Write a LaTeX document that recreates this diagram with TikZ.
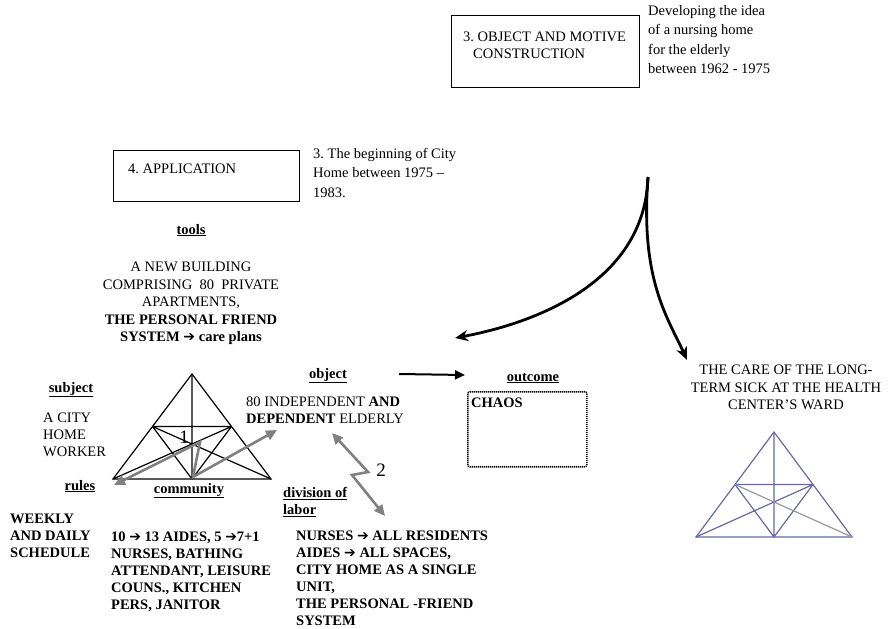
\documentclass[tikz,border=0pt]{standalone}
\usepackage{fontspec}
\setmainfont{Liberation Serif}
\newfontfamily\arrowfont{DejaVu Sans}
\usetikzlibrary{arrows.meta}
\frenchspacing
\newcommand{\harr}{{\arrowfont\bfseries\fontsize{14}{14}\selectfont ➔}}
\definecolor{wardblue}{RGB}{104,104,164}
\definecolor{zaggray}{RGB}{128,128,128}

\tikzset{
  plain/.style={inner sep=0pt, align=left, font=\fontsize{14.5}{17}\selectfont},
  note/.style={plain, font=\fontsize{14.5}{19.5}\selectfont},
  heavy/.style={plain, font=\fontsize{14.5}{17}\selectfont\bfseries},
  head/.style={inner sep=0pt, font=\fontsize{14.5}{17}\selectfont\bfseries},
  digit/.style={inner sep=0pt, font=\fontsize{19}{19}\selectfont},
  frame/.style={draw, line width=1pt, inner sep=0pt},
  zig/.style={draw=zaggray, line width=2.6pt,
    {Triangle[length=11pt,width=10pt]}-{Triangle[length=11pt,width=10pt]}},
  sweep/.style={line width=2.8pt, -{Stealth[length=13pt,width=11pt,inset=4pt]}},
}

\begin{document}
\begin{tikzpicture}[x=1pt,y=-1pt]
\useasboundingbox (0,0) rectangle (889,629);

% object and motive
\node[frame, anchor=north west, minimum width=188pt, minimum height=72pt] (motivebox) at (451,15) {};
\node[plain, anchor=north west] (motive) at (463,32) {3. OBJECT AND MOTIVE\\\hspace{10pt}CONSTRUCTION};
\node[note, anchor=north west] (idea) at (648,5) {Developing the idea\\of a nursing home\\for the elderly\\between 1962 - 1975};

% application
\node[frame, anchor=north west, minimum width=186pt, minimum height=51pt] (appbox) at (113,150) {};
\node[plain, anchor=north west] (app) at (128,164) {4. APPLICATION};
\node[note, anchor=north west] (begin) at (313,148) {3. The beginning of City\\Home between 1975 --\\1983.};

% tools
\node[head, anchor=base] (tools) at (191,234) {\underline{tools}};
\node[plain, align=center, anchor=north, font=\fontsize{14.5}{17.5}\selectfont] (toolstxt) at (191,262)
  {A NEW BUILDING\\COMPRISING\ \ 80\ \ PRIVATE\\APARTMENTS,\\\textbf{THE PERSONAL FRIEND}\\\textbf{SYSTEM \harr{} care plans}};

% subject and rules
\node[head, anchor=base] (subject) at (71,392) {\underline{subject}};
\node[plain, anchor=north west] (worker) at (43,413) {A CITY\\HOME\\WORKER};
\node[head, anchor=base] (rules) at (80,490) {\underline{rules}};
\node[heavy, anchor=north west] (schedule) at (10,514) {WEEKLY\\AND DAILY\\SCHEDULE};

% community
\node[head, anchor=base] (community) at (189,493) {\underline{community}};
\node[heavy, anchor=north west] (staff) at (111,532)
  {10 \harr{} 13 AIDES, 5 \harr{}7+1\\NURSES, BATHING\\ATTENDANT, LEISURE\\COUNS., KITCHEN\\PERS, JANITOR};

% division of labor
\node[head, anchor=north west, align=left] (division) at (283,487) {\underline{division of}\\\underline{labor}};
\node[heavy, anchor=north west] (tasks) at (296,531)
  {NURSES \harr{} ALL RESIDENTS\\AIDES \harr{} ALL SPACES,\\CITY HOME AS A SINGLE\\UNIT,\\THE PERSONAL -FRIEND\\SYSTEM};

% object
\node[head, anchor=base] (object) at (328,378) {\underline{object}};
\node[plain, anchor=north west] (elderly) at (246,397) {80 INDEPENDENT \textbf{AND}\\\textbf{DEPENDENT} ELDERLY};

% outcome
\node[head, anchor=base] (outcome) at (533,381) {\underline{outcome}};
\node[draw, line width=1.6pt, dash pattern=on 1.2pt off 0.8pt, rounded corners=2pt,
  minimum width=119pt, minimum height=75pt, anchor=north west] (chaosbox) at (467,391) {};
\node[head, anchor=north west] (chaos) at (471,398) {CHAOS};

% the ward
\node[plain, align=center, anchor=north, font=\fontsize{14.5}{17.5}\selectfont] (care) at (786,365)
  {THE CARE OF THE LONG-\\TERM SICK AT THE HEALTH\\CENTER’S WARD};

% activity triangle
\coordinate (t) at (192,374);
\coordinate (l) at (113,479);
\coordinate (r) at (271,479);
\coordinate (m) at (192,479);
\coordinate (ml) at (152.5,426.5);
\coordinate (mr) at (231.5,426.5);
\draw[line width=1.2pt] (l) -- (t) -- (r) -- cycle;
\draw[line width=1.2pt] (t) -- (m) (ml) -- (mr) (ml) -- (m) -- (mr) (ml) -- (r) (mr) -- (l);
\node[digit] (one) at (184,437) {1};

% ward triangle
\coordinate (wt) at (774,432);
\coordinate (wl) at (696,537);
\coordinate (wr) at (852,537);
\coordinate (wm) at (774,537);
\coordinate (wml) at (735,484.5);
\coordinate (wmr) at (813,484.5);
\draw[wardblue, line width=1.2pt] (wl) -- (wt) -- (wr) -- cycle;
\draw[wardblue, line width=1.2pt] (wt) -- (wm) (wml) -- (wmr) (wml) -- (wm) -- (wmr) (wmr) -- (wl);
\draw[gray!80, line width=1.2pt] (wml) -- (wr);

% contradictions
\coordinate (z1a) at (114,485);
\coordinate (z1b) at (200,442);
\coordinate (z1c) at (193,477);
\coordinate (z1d) at (277,430);
\draw[zig] (z1a) -- (z1b) -- (z1c) -- (z1d);
\coordinate (z2a) at (332,433);
\coordinate (z2b) at (368,472);
\coordinate (z2c) at (352,475);
\coordinate (z2d) at (385,516);
\draw[zig] (z2a) -- (z2b) -- (z2c) -- (z2d);
\node[digit] (two) at (381,470) {2};

% arrows
\coordinate (objend) at (399,374);
\coordinate (outend) at (465,375);
\draw[line width=2pt, -{Triangle[length=10pt,width=9pt]}] (objend) -- (outend);
\coordinate (split) at (648,177);
\coordinate (toapp) at (455,338);
\coordinate (toward) at (687,360);
\draw[sweep] (split) .. controls (645,280) and (540,322) .. (toapp);
\draw[sweep] (split) .. controls (640,280) and (668,318) .. (toward);
\end{tikzpicture}
\end{document}
